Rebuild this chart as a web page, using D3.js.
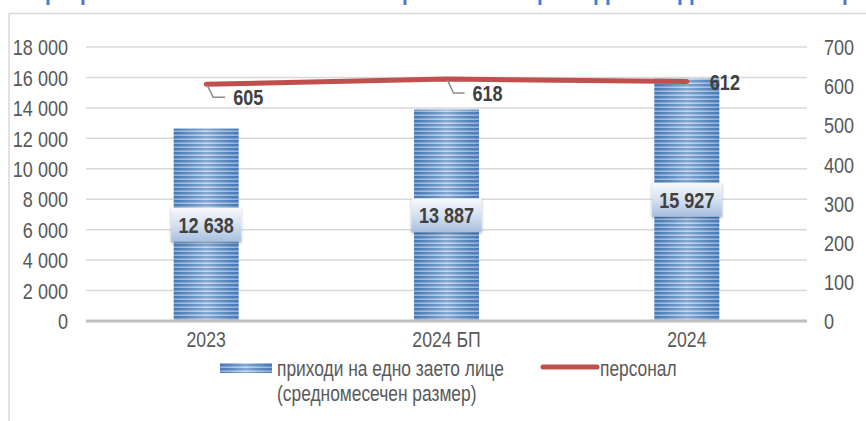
<!DOCTYPE html>
<html><head><meta charset="utf-8">
<script src="https://cdn.jsdelivr.net/npm/d3@7"></script>
<style>
html,body{margin:0;padding:0;background:#fff;}
svg{display:block;}
text{font-family:"Liberation Sans Narrow","Arial Narrow","Liberation Sans",Arial,sans-serif;}
</style></head>
<body>
<script>
// ---- data ----
const categories = ["2023", "2024 БП", "2024"];
const revenuePerEmployee = [12638, 13887, 15927];
const personnel = [605, 618, 612];
const leftTicks = [0, 2000, 4000, 6000, 8000, 10000, 12000, 14000, 16000, 18000];
const rightTicks = [0, 100, 200, 300, 400, 500, 600, 700];
const legendBar = ["приходи на едно заето лице", "(средномесечен размер)"];
const legendLine = "персонал";
// decorative: clipped title descenders at top edge
const titleMarks = [48, 83, 405, 540, 596, 608, 680, 692, 845];

const W = 866, H = 421;
const M = {left: 86, right: 807, top: 47, bottom: 321};

const svg = d3.select("body").append("svg").attr("width", W).attr("height", H);
const defs = svg.append("defs");

// bar stripe pattern
const pat = defs.append("pattern").attr("id", "stripes").attr("patternUnits", "userSpaceOnUse")
  .attr("width", 8).attr("height", 4);
pat.append("rect").attr("width", 8).attr("height", 4).attr("fill", "#b4cbe8");
pat.append("rect").attr("y", 0).attr("width", 8).attr("height", 2).attr("fill", "#4f81bd");
pat.append("rect").attr("y", 2).attr("width", 8).attr("height", 0.8).attr("fill", "#7ea3d3");

const glow = defs.append("linearGradient").attr("id", "glow").attr("x1", 0).attr("x2", 1).attr("y1", 0).attr("y2", 0);
glow.append("stop").attr("offset", "0%").attr("stop-color", "#2f5f9e").attr("stop-opacity", 0.25);
glow.append("stop").attr("offset", "50%").attr("stop-color", "#ffffff").attr("stop-opacity", 0.3);
glow.append("stop").attr("offset", "100%").attr("stop-color", "#2f5f9e").attr("stop-opacity", 0.25);

const boxGrad = defs.append("linearGradient").attr("id", "boxg").attr("x1", 0).attr("x2", 0).attr("y1", 0).attr("y2", 1);
boxGrad.append("stop").attr("offset", "0%").attr("stop-color", "#f7f9fc");
boxGrad.append("stop").attr("offset", "50%").attr("stop-color", "#d6e1f0");
boxGrad.append("stop").attr("offset", "100%").attr("stop-color", "#a6bedf");

const shadow = defs.append("filter").attr("id", "sh").attr("x", "-20%").attr("y", "-20%").attr("width", "140%").attr("height", "140%");
shadow.append("feGaussianBlur").attr("in", "SourceAlpha").attr("stdDeviation", 1.5).attr("result", "b");
shadow.append("feOffset").attr("dx", 0).attr("dy", 1).attr("result", "o");
shadow.append("feComponentTransfer").append("feFuncA").attr("type", "linear").attr("slope", 0.35);
const mrg = shadow.append("feMerge");
mrg.append("feMergeNode");
mrg.append("feMergeNode").attr("in", "SourceGraphic");

// condense text to mimic Arial Narrow
function narrow(sel) {
  sel.each(function () {
    const w = this.getComputedTextLength();
    d3.select(this).attr("textLength", w * 0.82).attr("lengthAdjust", "spacingAndGlyphs");
  });
}

// frame
svg.selectAll(".tm").data(titleMarks).enter().append("rect")
  .attr("x", d => d - 1.5).attr("y", 0).attr("width", 3).attr("height", 5).attr("fill", "#4a7ec6");
svg.append("line").attr("x1", 9).attr("x2", W).attr("y1", 13.5).attr("y2", 13.5)
  .attr("stroke", "#d9d9d9").attr("stroke-width", 1.5);
svg.append("line").attr("x1", 9).attr("x2", 9).attr("y1", 13).attr("y2", H)
  .attr("stroke", "#d9d9d9").attr("stroke-width", 1.5);

// scales
const x = d3.scaleBand().domain(categories).range([M.left, M.right]).padding(0);
const yL = d3.scaleLinear().domain([0, 18000]).range([M.bottom, M.top]);
const yR = d3.scaleLinear().domain([0, 700]).range([M.bottom, M.top]);
const fmt = v => d3.format(",")(v).replace(/,/g, " ");

// gridlines
svg.append("g").selectAll("line").data(leftTicks.filter(d => d > 0)).enter().append("line")
  .attr("x1", M.left).attr("x2", M.right).attr("y1", d => yL(d)).attr("y2", d => yL(d))
  .attr("stroke", "#d9d9d9").attr("stroke-width", 1.5);

// left axis
const axL = svg.append("g").attr("transform", `translate(${M.left - 18},0)`)
  .call(d3.axisLeft(yL).tickValues(leftTicks).tickFormat(fmt).tickSize(0).tickPadding(0));
axL.select(".domain").remove();
axL.selectAll("text").attr("fill", "#595959").style("font-size", "22px").attr("dy", "0.35em").call(narrow);

// right axis
const axR = svg.append("g").attr("transform", `translate(${M.right + 17},0)`)
  .call(d3.axisRight(yR).tickValues(rightTicks).tickFormat(d3.format("d")).tickSize(0).tickPadding(0));
axR.select(".domain").remove();
axR.selectAll("text").attr("fill", "#595959").style("font-size", "22px").attr("dy", "0.35em").call(narrow);

// bars
const bw = x.bandwidth() * 0.27;
const cx = d => x(d) + x.bandwidth() / 2;
const bars = svg.append("g");
categories.forEach((c, i) => {
  const v = revenuePerEmployee[i];
  bars.append("rect").attr("x", cx(c) - bw / 2).attr("y", yL(v)).attr("width", bw).attr("height", yL(0) - yL(v))
    .attr("fill", "url(#stripes)");
  bars.append("rect").attr("x", cx(c) - bw / 2).attr("y", yL(v)).attr("width", bw).attr("height", yL(0) - yL(v))
    .attr("fill", "url(#glow)");
});

// x axis line
svg.append("line").attr("x1", M.left).attr("x2", M.right).attr("y1", yL(0)).attr("y2", yL(0))
  .attr("stroke", "#bfbfbf").attr("stroke-width", 3);

// category labels
const axX = svg.append("g").attr("transform", `translate(0,${yL(0) + 9})`)
  .call(d3.axisBottom(x).tickSize(0).tickPadding(0));
axX.select(".domain").remove();
axX.selectAll("text").attr("fill", "#595959").style("font-size", "21.5px").attr("dy", "0.8em").call(narrow);

// bar value labels
categories.forEach((c, i) => {
  const v = revenuePerEmployee[i];
  const yc = yL(v / 2);
  svg.append("rect").attr("x", cx(c) - 35).attr("y", yc - 17).attr("width", 70).attr("height", 34)
    .attr("fill", "url(#boxg)").attr("filter", "url(#sh)");
  svg.append("text").attr("x", cx(c)).attr("y", yc).attr("dy", "0.36em").attr("text-anchor", "middle")
    .attr("fill", "#404040").style("font-size", "22px").style("font-weight", "bold").text(fmt(v)).call(narrow);
});

// personnel line
const line = d3.line().x((d, i) => cx(categories[i])).y(d => yR(d));
svg.append("path").datum(personnel).attr("d", line).attr("fill", "none")
  .attr("stroke", "#c0504d").attr("stroke-width", 5).attr("stroke-linecap", "round").attr("stroke-linejoin", "round");

// line labels with leader lines
const lblOff = [{dx: 27, dy: 13, leader: true}, {dx: 26, dy: 14, leader: true}, {dx: 23, dy: 1, leader: false}];
personnel.forEach((v, i) => {
  const px = cx(categories[i]), py = yR(v), o = lblOff[i];
  if (o.leader) {
    svg.append("path").attr("d", `M${px + 1},${py + 1}L${px + 7},${py + o.dy}L${px + o.dx - 8},${py + o.dy}`)
      .attr("fill", "none").attr("stroke", "#8c8c8c").attr("stroke-width", 1.5);
  }
  svg.append("text").attr("x", px + o.dx).attr("y", py + o.dy).attr("dy", "0.36em")
    .attr("fill", "#404040").style("font-size", "22px").style("font-weight", "bold").text(v).call(narrow);
});

// legend
const lg = svg.append("g");
lg.append("rect").attr("x", 220).attr("y", 363).attr("width", 52).attr("height", 10).attr("fill", "url(#stripes)");
lg.append("rect").attr("x", 220).attr("y", 363).attr("width", 52).attr("height", 10).attr("fill", "url(#glow)");
legendBar.forEach((t, i) => {
  lg.append("text").attr("x", 277).attr("y", 376 + i * 25).attr("fill", "#595959").style("font-size", "21.2px").text(t).call(narrow);
});
lg.append("line").attr("x1", 543).attr("x2", 597).attr("y1", 367).attr("y2", 367)
  .attr("stroke", "#c0504d").attr("stroke-width", 5).attr("stroke-linecap", "round");
lg.append("text").attr("x", 600).attr("y", 376).attr("fill", "#595959").style("font-size", "21.2px").text(legendLine).call(narrow);
</script>
</body></html>
